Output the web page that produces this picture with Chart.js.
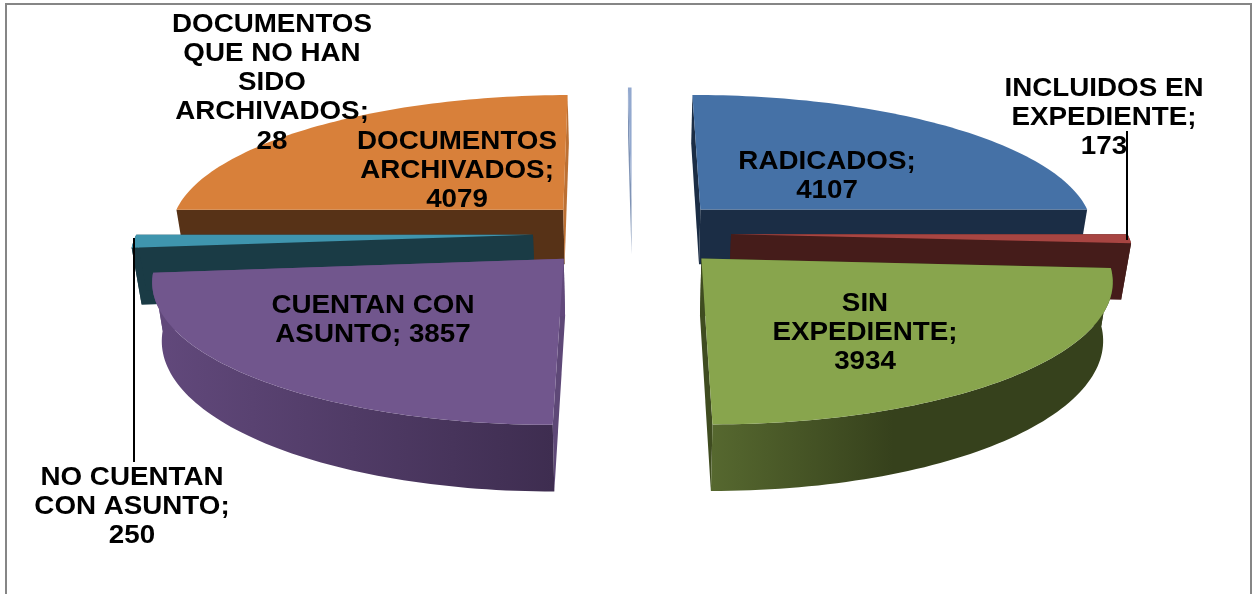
<!DOCTYPE html>
<html>
<head>
<meta charset="utf-8">
<style>
  html, body { margin: 0; padding: 0; background: #ffffff; }
  canvas { display: block; }
</style>
<script src="https://cdn.jsdelivr.net/npm/chart.js@4/dist/chart.umd.min.js"></script>
</head>
<body>
<canvas id="grafica" width="1256" height="594"></canvas>
<script>
var categorias = ["RADICADOS", "INCLUIDOS EN EXPEDIENTE", "SIN EXPEDIENTE", "CUENTAN CON ASUNTO", "NO CUENTAN CON ASUNTO", "DOCUMENTOS ARCHIVADOS", "DOCUMENTOS QUE NO HAN SIDO ARCHIVADOS"];
var valores = [4107, 173, 3934, 3857, 250, 4079, 28];

// colores de cada porcion
var colorTapa = ["#4571A6", "#A84542", "#88A54D", "#71568D", "#3F95AE", "#D8803A", "#93A9CF"];
var colorLado = ["#1B2D45", "#451C1A", "#36411C", "#62497C", "#1A3B45", "#573217", "#7F93B5"];
var colorCentro = ["#1B2D45", "#451C1A", "#3F4C20", "#5E4877", "#1A3B45", "#BC7033", "#7F93B5"];
var colorCurvaIni = ["#1B2D45", "#451C1A", "#56682F", "#62497C", "#1A3B45", "#573217", "#A9BAD6"];
var colorCurvaFin = ["#1B2D45", "#451C1A", "#36411C", "#3E2D50", "#1A3B45", "#573217", "#A9BAD6"];

// centro de la primera linea de cada etiqueta
var etiquetaX = [827, 1104, 865, 373, 132, 457, 272];
var etiquetaY = [162, 89, 304, 306, 478, 142, 25];

// orden de pintado, de atras hacia adelante
var ordenPintado = [6, 0, 5, 1, 4, 2, 3];

const cx = 632, cy = 233;
const escalaX = 396, escalaY = 136, alto = 56;
const perspectiva = 0.135, explosion = 0.25, angostoAbajo = 0.02;
const anchoTexto = 1.11, altoLinea = 29.2, anchoMaximo = 215;

function proyectar(u, v, abajo) {
  var w = 1 / (1 - perspectiva * v);
  return {
    x: cx + escalaX * u * w * (1 - angostoAbajo * abajo),
    y: cy + escalaY * v * w + alto * w * abajo
  };
}

function poligono(ctx, puntos, relleno) {
  ctx.beginPath();
  puntos.forEach(function (p, i) {
    if (i === 0) ctx.moveTo(p.x, p.y); else ctx.lineTo(p.x, p.y);
  });
  ctx.closePath();
  ctx.fillStyle = relleno;
  ctx.fill();
}

function dibujarPorcion(ctx, arco, i) {
  var medio = (arco.startAngle + arco.endAngle) / 2;
  var du = explosion * Math.cos(medio), dv = explosion * Math.sin(medio);
  var curvaArriba = [], curvaAbajo = [];
  var pasos = 70;
  for (var n = 0; n <= pasos; n++) {
    var a = arco.startAngle + (arco.endAngle - arco.startAngle) * n / pasos;
    curvaArriba.push(proyectar(du + Math.cos(a), dv + Math.sin(a), 0));
    curvaAbajo.push(proyectar(du + Math.cos(a), dv + Math.sin(a), 1));
  }
  var apiceArriba = proyectar(du, dv, 0), apiceAbajo = proyectar(du, dv, 1);

  // paredes rectas, la casi vertical es la que mira al centro
  var inicioCentro = Math.abs(Math.cos(arco.startAngle)) < Math.abs(Math.cos(arco.endAngle));
  poligono(ctx, [apiceArriba, curvaArriba[0], curvaAbajo[0], apiceAbajo], inicioCentro ? colorCentro[i] : colorLado[i]);
  poligono(ctx, [apiceArriba, curvaArriba[pasos], curvaAbajo[pasos], apiceAbajo], inicioCentro ? colorLado[i] : colorCentro[i]);

  // pared curva, solo en las porciones que dan al frente
  if (Math.sin(medio) > -0.1) {
    var xs = curvaArriba.map(function (p) { return p.x; });
    var xMin = Math.min.apply(null, xs), xMax = Math.max.apply(null, xs);
    var grad = ctx.createLinearGradient(xMin, 0, xMax, 0);
    grad.addColorStop(0, colorCurvaIni[i]);
    grad.addColorStop(Math.cos(medio) > 0 ? 0.45 : 1, colorCurvaFin[i]);
    poligono(ctx, curvaArriba.concat(curvaAbajo.slice().reverse()), grad);
  }

  // tapa
  poligono(ctx, [apiceArriba].concat(curvaArriba), colorTapa[i]);
}

function partirTexto(ctx, texto) {
  var lineas = [], actual = "";
  texto.split(" ").forEach(function (palabra) {
    var prueba = actual ? actual + " " + palabra : palabra;
    if (ctx.measureText(prueba).width * anchoTexto > anchoMaximo && actual) {
      lineas.push(actual);
      actual = palabra;
    } else {
      actual = prueba;
    }
  });
  lineas.push(actual);
  return lineas;
}

var pastel3d = {
  id: "pastel3d",
  beforeDatasetDraw: function () { return false; },
  afterDatasetsDraw: function (chart) {
    var ctx = chart.ctx;
    var arcos = chart.getDatasetMeta(0).data;
    ctx.save();

    // marco
    ctx.strokeStyle = "#868686";
    ctx.lineWidth = 2;
    ctx.beginPath();
    ctx.moveTo(6, 594);
    ctx.lineTo(6, 4);
    ctx.lineTo(1251, 4);
    ctx.lineTo(1251, 594);
    ctx.stroke();

    ordenPintado.forEach(function (i) { dibujarPorcion(ctx, arcos[i], i); });

    // lineas guia
    ctx.strokeStyle = "#000000";
    ctx.lineWidth = 2;
    ctx.beginPath();
    ctx.moveTo(1127, 131);
    ctx.lineTo(1127, 240);
    ctx.moveTo(134, 238);
    ctx.lineTo(134, 462);
    ctx.stroke();

    // etiquetas
    ctx.font = "bold 25px 'Liberation Sans'";
    ctx.fillStyle = "#000000";
    ctx.textAlign = "center";
    ctx.textBaseline = "middle";
    categorias.forEach(function (nombre, i) {
      var lineas = partirTexto(ctx, nombre + "; " + valores[i]);
      lineas.forEach(function (linea, n) {
        ctx.save();
        ctx.translate(etiquetaX[i], etiquetaY[i] + n * altoLinea);
        ctx.scale(anchoTexto, 1);
        ctx.fillText(linea, 0, 0);
        ctx.restore();
      });
    });
    ctx.restore();
  }
};

new Chart(document.getElementById("grafica").getContext("2d"), {
  type: "pie",
  data: {
    labels: categorias,
    datasets: [{ data: valores, backgroundColor: colorTapa, borderWidth: 0 }]
  },
  options: {
    responsive: false,
    animation: false,
    plugins: { legend: { display: false }, tooltip: { enabled: false } }
  },
  plugins: [pastel3d]
});
</script>
</body>
</html>
